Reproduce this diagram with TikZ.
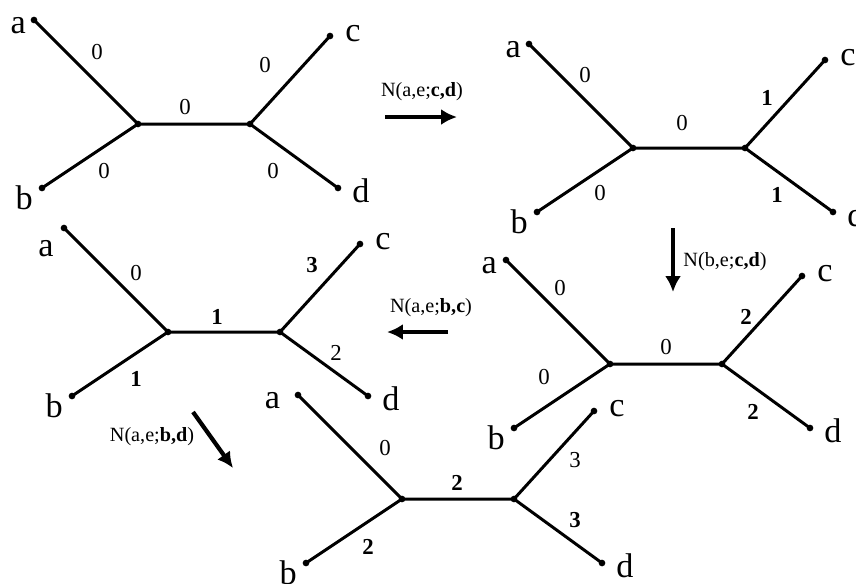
\documentclass[tikz,border=0pt]{standalone}
\usepackage{fontspec}
\setmainfont{Liberation Serif}
\usetikzlibrary{calc,arrows.meta}

\tikzset{
  branch/.style={line width=1.7pt},
  move/.style={line width=2.4pt,-{Latex[length=9pt,width=9pt]}},
  leaf/.style={font=\fontsize{19.5}{22}\selectfont,inner sep=2pt},
  wt/.style={font=\fontsize{13}{15}\selectfont,inner sep=1pt},
  op/.style={font=\fontsize{11.5}{14}\selectfont,inner sep=1pt},
}

% quartet tree: name, inner left vertex, shift of the a
\newcommand{\quartet}[3]{%
  \coordinate (#1l) at (#2);
  \coordinate (#1r) at ($(#1l)+(112,0)$);
  \coordinate (#1a) at ($(#1l)+(-104,-104)$);
  \coordinate (#1b) at ($(#1l)+(-96,64)$);
  \coordinate (#1c) at ($(#1r)+(80,-88)$);
  \coordinate (#1d) at ($(#1r)+(88,64)$);
  \draw[branch] (#1a) -- (#1l) -- (#1r) -- (#1c);
  \draw[branch] (#1b) -- (#1l);
  \draw[branch] (#1r) -- (#1d);
  \foreach \p in {a,b,c,d,l,r} \fill (#1\p) circle (1.9pt);
  \node[leaf,anchor=east,#3] (#1A) at (#1a) {a};
  \node[leaf,anchor=north east,xshift=-3pt,yshift=3.5pt] (#1B) at (#1b) {b};
  \node[leaf,anchor=west,xshift=6.5pt,yshift=1.5pt] (#1C) at (#1c) {c};
  \node[leaf,anchor=west,xshift=6pt,yshift=-1.5pt] (#1D) at (#1d) {d};
}

\begin{document}
\begin{tikzpicture}[x=0.02cm,y=-0.02cm]
\useasboundingbox (0,0) rectangle (856,583);

% the five trees
\quartet{t1}{138,124}{xshift=-2.5pt,yshift=-3pt}
\begin{scope}[shift={(t1l)}]
  \node[wt] (t1wa) at (-41,-72) {0};
  \node[wt] (t1wb) at (-34,47) {0};
  \node[wt] (t1wm) at (47,-17) {0};
  \node[wt] (t1wc) at (127,-59) {0};
  \node[wt] (t1wd) at (135,47) {0};
\end{scope}

\quartet{t2}{633,148}{xshift=-2.5pt,yshift=-3pt}
\begin{scope}[shift={(t2l)}]
  \node[wt] (t2wa) at (-48,-73) {0};
  \node[wt] (t2wb) at (-33,45) {0};
  \node[wt] (t2wm) at (49,-25) {0};
  \node[wt] (t2wc) at (134,-50) {\textbf{1}};
  \node[wt] (t2wd) at (144,47) {\textbf{1}};
\end{scope}

\quartet{t3}{610,364}{xshift=-3pt,yshift=-3pt}
\begin{scope}[shift={(t3l)}]
  \node[wt] (t3wa) at (-50,-76) {0};
  \node[wt] (t3wb) at (-66,13) {0};
  \node[wt] (t3wm) at (56,-17) {0};
  \node[wt] (t3wc) at (136,-47) {\textbf{2}};
  \node[wt] (t3wd) at (143,48) {\textbf{2}};
\end{scope}

\quartet{t4}{168,332}{xshift=-3.7pt,yshift=-12pt}
\begin{scope}[shift={(t4l)}]
  \node[wt] (t4wa) at (-32,-59) {0};
  \node[wt] (t4wb) at (-32,47) {\textbf{1}};
  \node[wt] (t4wm) at (49,-15) {\textbf{1}};
  \node[wt] (t4wc) at (144,-67) {\textbf{3}};
  \node[wt] (t4wd) at (168,21) {2};
\end{scope}

\quartet{t5}{402,499}{xshift=-8pt,yshift=-3pt}
\begin{scope}[shift={(t5l)}]
  \node[wt] (t5wa) at (-17,-51) {0};
  \node[wt] (t5wb) at (-34,48) {\textbf{2}};
  \node[wt] (t5wm) at (55,-16) {\textbf{2}};
  \node[wt] (t5wc) at (173,-39) {3};
  \node[wt] (t5wd) at (173,21) {\textbf{3}};
\end{scope}

% moves between trees
\coordinate (m1s) at (385,117);  \coordinate (m1e) at (457,117);
\coordinate (m2s) at (673,228);  \coordinate (m2e) at (673,292);
\coordinate (m3s) at (448,332);  \coordinate (m3e) at (387,332);
\coordinate (m4s) at (193,412);  \coordinate (m4e) at (233,468);
\draw[move] (m1s) -- (m1e);
\draw[move] (m2s) -- (m2e);
\draw[move] (m3s) -- (m3e);
\draw[move] (m4s) -- (m4e);
\node[op] (n1) at (422,92) {N(a,e;\textbf{c,d})};
\node[op] (n2) at (725,262) {N(b,e;\textbf{c,d})};
\node[op] (n3) at (431,308) {N(a,e;\textbf{b,c})};
\node[op] (n4) at (152,437) {N(a,e;\textbf{b,d})};
\end{tikzpicture}
\end{document}
